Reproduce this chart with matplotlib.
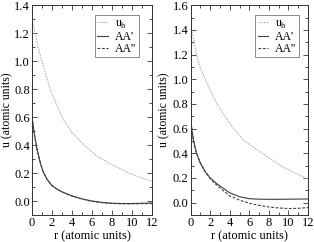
import matplotlib
matplotlib.use("Agg")
import matplotlib.pyplot as plt
from matplotlib.ticker import MultipleLocator

plt.rcParams['font.family'] = 'serif'
plt.rcParams['font.serif'] = ['Liberation Serif', 'DejaVu Serif']
plt.rcParams['mathtext.fontset'] = 'custom'
plt.rcParams['mathtext.rm'] = 'Liberation Serif'

# left panel
r_uh_a = [0, 0.15, 0.3, 0.6, 1.0, 1.4, 1.8, 2.4, 3.0, 4.0, 5.2, 6.5, 8.0, 9.7, 11.0, 12.0]
uh_a = [1.30, 1.25, 1.20, 1.10, 1.00, 0.90, 0.80, 0.70, 0.60, 0.49, 0.40, 0.32, 0.26, 0.20, 0.165, 0.14]
r_aa_a = [0, 0.15, 0.3, 0.5, 0.8, 1.1, 1.5, 2.0, 2.5, 3.0, 4.0, 5.0, 6.0, 7.0, 8.0, 9.0, 10.0, 11.0, 12.0]
aa1_a = [0.60, 0.52, 0.45, 0.37, 0.28, 0.21, 0.155, 0.11, 0.085, 0.065, 0.036, 0.015, 0.0, -0.01, -0.016, -0.018, -0.018, -0.016, -0.015]
aa2_a = [0.60, 0.52, 0.45, 0.37, 0.28, 0.21, 0.155, 0.11, 0.085, 0.065, 0.036, 0.014, -0.002, -0.012, -0.018, -0.02, -0.02, -0.019, -0.018]

# right panel
r_uh_b = [0, 0.1, 0.3, 0.6, 1.0, 1.5, 2.0, 2.7, 3.5, 4.4, 5.5, 7.3, 9.0, 10.5, 12.0]
uh_b = [1.43, 1.40, 1.32, 1.20, 1.09, 1.00, 0.91, 0.80, 0.70, 0.60, 0.50, 0.40, 0.31, 0.245, 0.19]
r_aa_b = [0, 0.15, 0.3, 0.6, 1.0, 1.5, 2.0, 2.5, 3.0, 4.0, 5.0, 6.0, 7.0, 8.0, 9.0, 10.0, 11.0, 12.0]
aa1_b = [0.68, 0.58, 0.50, 0.40, 0.32, 0.25, 0.20, 0.165, 0.135, 0.08, 0.048, 0.032, 0.028, 0.027, 0.027, 0.028, 0.029, 0.03]
aa2_b = [0.68, 0.58, 0.50, 0.40, 0.32, 0.25, 0.195, 0.155, 0.12, 0.055, 0.02, -0.005, -0.022, -0.035, -0.043, -0.048, -0.046, -0.04]

panels = [
    (r_uh_a, uh_a, r_aa_a, aa1_a, aa2_a, (-0.1, 1.4), [0.102, 0.1116, 0.382, 0.867], -0.16, (0.89, 0.952)),
    (r_uh_b, uh_b, r_aa_b, aa1_b, aa2_b, (-0.1, 1.6), [0.607, 0.1116, 0.374, 0.867], -0.17, (0.923, 0.952)),
]

fig = plt.figure(figsize=(3.14, 2.42), dpi=100)

for r_uh, uh, r_aa, aa1, aa2, ylim, rect, ylab_x, leg_pos in panels:
    ax = fig.add_axes(rect)
    ax.plot(r_uh, uh, color='#b4b4b4', lw=0.8, ls=(0, (1.5, 1)), label='u$_\\mathrm{h}$')
    ax.plot(r_aa, aa1, color='#404040', lw=0.8, ls='-', label="AA'")
    ax.plot(r_aa, aa2, color='#404040', lw=0.8, ls=(0, (2.5, 1.5)), label="AA''")
    ax.set_xlim(0, 12)
    ax.set_ylim(*ylim)
    ax.xaxis.set_major_locator(MultipleLocator(2))
    ax.xaxis.set_minor_locator(MultipleLocator(1))
    ax.yaxis.set_major_locator(MultipleLocator(0.2))
    ax.yaxis.set_minor_locator(MultipleLocator(0.1))
    ax.yaxis.set_major_formatter(plt.FormatStrFormatter('%.1f'))
    ax.tick_params(which='both', direction='in', top=True, right=True,
                   labelsize=9, pad=1.5, color='#333333')
    ax.tick_params(which='major', length=3.5, width=0.6)
    ax.tick_params(which='minor', length=2, width=0.6)
    for s in ax.spines.values():
        s.set_linewidth(0.7)
        s.set_color('#333333')
    ax.set_xlabel('r (atomic units)', fontsize=9, labelpad=1)
    ax.set_ylabel('u (atomic units)', fontsize=8.5)
    ax.yaxis.set_label_coords(ylab_x, 0.5)
    leg = ax.legend(loc='upper right', fontsize=8.5, frameon=True, fancybox=False,
                    handlelength=0.9, handletextpad=0.6, borderpad=0.2,
                    labelspacing=0.0, borderaxespad=0, edgecolor='#555555',
                    bbox_to_anchor=leg_pos)
    leg.get_frame().set_linewidth(0.6)

fig.savefig('out.png', dpi=100)
